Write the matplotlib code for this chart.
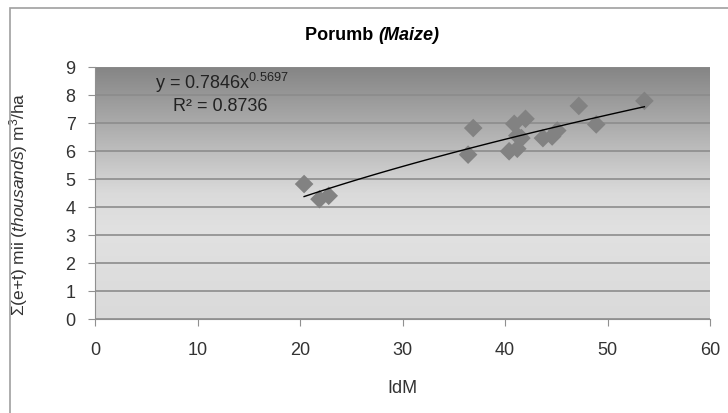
import numpy as np
from matplotlib import pyplot as plt
from matplotlib.colors import LinearSegmentedColormap
from matplotlib.patches import Rectangle

# IdM vs sum(e+t)
idm = [20.4, 21.9, 22.8, 36.4, 36.9, 40.4, 40.9, 41.2, 41.2, 41.6, 42.0,
       43.7, 44.6, 45.1, 47.2, 48.9, 53.6]
et_sum = [4.82, 4.28, 4.40, 5.87, 6.82, 5.99, 6.97, 6.08, 6.55, 6.46, 7.15,
          6.46, 6.52, 6.73, 7.61, 6.95, 7.79]
coef_a = 0.7846
coef_b = 0.5697
x_ticks = [0, 10, 20, 30, 40, 50, 60]
y_ticks = [0, 1, 2, 3, 4, 5, 6, 7, 8, 9]

plt.rcParams['font.family'] = ['Liberation Sans', 'DejaVu Sans']
plt.rcParams['mathtext.fontset'] = 'custom'
plt.rcParams['mathtext.rm'] = 'Liberation Sans'
plt.rcParams['mathtext.it'] = 'Liberation Sans:italic'

fig = plt.figure(figsize=(7.28, 4.14), dpi=100)
fig.patch.set_facecolor('white')
fig.patches.append(Rectangle((10 / 728, -0.05), 1.0, 1 - 9 / 414 + 0.05,
                             transform=fig.transFigure, fill=False,
                             edgecolor='#a0a0a0', linewidth=1.2))

ax = fig.add_axes([95 / 728, 1 - 320 / 414, (710 - 95) / 728, (320 - 68) / 414])

# gradient background (dark at top, light at bottom)
cmap = LinearSegmentedColormap.from_list(
    'bg', [(0.0, '#dadada'), (0.35, '#e1e1e1'), (0.5, '#dadada'),
           (0.7, '#b8b8b8'), (1.0, '#858585')])
grad = np.linspace(0, 1, 256).reshape(-1, 1)
ax.imshow(grad, cmap=cmap, aspect='auto', origin='lower',
          extent=[0, 60, 0, 9], zorder=0)

ax.set_xlim(0, 60)
ax.set_ylim(0, 9)
ax.set_xticks(x_ticks)
ax.set_yticks(y_ticks)
ax.grid(axis='y', color='#8c8c8c', linewidth=1.2, zorder=1)
ax.set_axisbelow(False)

ax.scatter(idm, et_sum, marker='D', s=90, color='#828282', zorder=3,
           edgecolors='none')

xs = np.linspace(min(idm), max(idm), 100)
ax.plot(xs, coef_a * xs ** coef_b, color='black', linewidth=1, zorder=4)

ax.text(5.9, 8.25, r'y = 0.7846x$^{0.5697}$', fontsize=13, color='#222222')
ax.text(7.6, 7.45, 'R² = 0.8736', fontsize=13, color='#222222')

for s in ['top', 'right']:
    ax.spines[s].set_visible(False)
ax.spines['left'].set_color('#909090')
ax.spines['bottom'].set_color('#909090')
ax.tick_params(direction='out', length=5, color='#909090', labelsize=13,
               labelcolor='#333333')
ax.tick_params(axis='x', pad=11)
ax.tick_params(axis='y', pad=9)

ax.set_xlabel('IdM', fontsize=13, color='#333333')
ax.xaxis.set_label_coords(0.5, -0.24)
ax.set_ylabel(r'$\Sigma$(e+t) mii ($\it{thousands}$) m$^3$/ha', fontsize=12.5,
              color='#333333')
ax.yaxis.set_label_coords(-0.105, 0.46)

t1 = fig.text(305 / 728, 1 - 35 / 414, 'Porumb ', ha='left', va='center',
              fontsize=13, fontweight='bold')
fig.canvas.draw()
bb = t1.get_window_extent()
fig.text(bb.x1 / fig.bbox.width, 1 - 35 / 414, '(Maize)', ha='left',
         va='center', fontsize=13, fontweight='bold', style='italic')

plt.savefig('out.png', dpi=100)
